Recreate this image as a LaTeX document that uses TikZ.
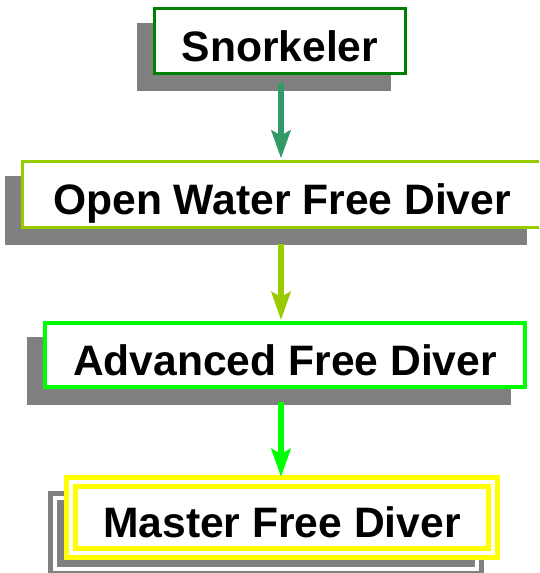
\documentclass[tikz,border=0pt]{standalone}
\usepackage{fontspec}
\setmainfont{Liberation Sans}
\usetikzlibrary{arrows.meta}
\definecolor{sgray}{HTML}{808080}
\definecolor{cSnork}{HTML}{008000}
\definecolor{cOpen}{HTML}{99CC00}
\definecolor{cAdv}{HTML}{00FF00}
\definecolor{cMast}{HTML}{FFFF00}
\definecolor{cArrA}{HTML}{339966}
\begin{document}
\begin{tikzpicture}[x=1pt,y=-1pt,
  lvl/.style={draw, fill=white, inner sep=0pt, outer sep=0pt,
    text height=40pt, text depth=0pt,
    font=\fontsize{42.6}{50}\selectfont\bfseries, line width=3pt},
  shadebox/.style={fill=sgray, draw=sgray, inner sep=0pt, outer sep=0pt, line width=3pt},
  conn/.style={line width=6pt, -{Stealth[length=28pt,width=19pt,inset=5pt]}}]
\useasboundingbox (0,0) rectangle (539,573);
\clip (0,0) rectangle (539,573);
\coordinate (col) at (281,0);

% shadows
\node[shadebox, minimum width=251pt, minimum height=65pt] (shS) at (264,57) {};
\node[shadebox, minimum width=519pt, minimum height=66pt] (shO) at (266,210.5) {};
\node[shadebox, line width=4pt, minimum width=480pt, minimum height=64pt] (shA) at (269,371) {};
\node[shadebox, line width=5pt, double=white, double distance=4pt,
      minimum width=422pt, minimum height=71pt] (shM) at (266,533.5) {};

% boxes
\node[lvl, draw=cSnork, minimum width=251pt, minimum height=65pt] (s) at (280,41) {Snorkeler};
\node[lvl, draw=cOpen, minimum width=519pt, minimum height=66pt] (o) at (282,194.5) {Open Water Free Diver};
\node[lvl, draw=cAdv, line width=4pt, minimum width=480pt, minimum height=64pt] (a) at (285,355) {Advanced Free Diver};
\node[lvl, draw=cMast, line width=5pt, double=white, double distance=4pt,
      minimum width=422pt, minimum height=71pt] (m) at (282,517.5) {Master Free Diver};

% connectors
\draw[conn, cArrA, shorten <=9.5pt, shorten >=3pt] (s.south -| col) -- (o.north -| col);
\draw[conn, cOpen, shorten <=16.5pt, shorten >=3pt] (o.south -| col) -- (a.north -| col);
\draw[conn, cAdv, shorten <=15pt, shorten >=5pt] (a.south -| col) -- (m.north -| col);
\end{tikzpicture}
\end{document}
